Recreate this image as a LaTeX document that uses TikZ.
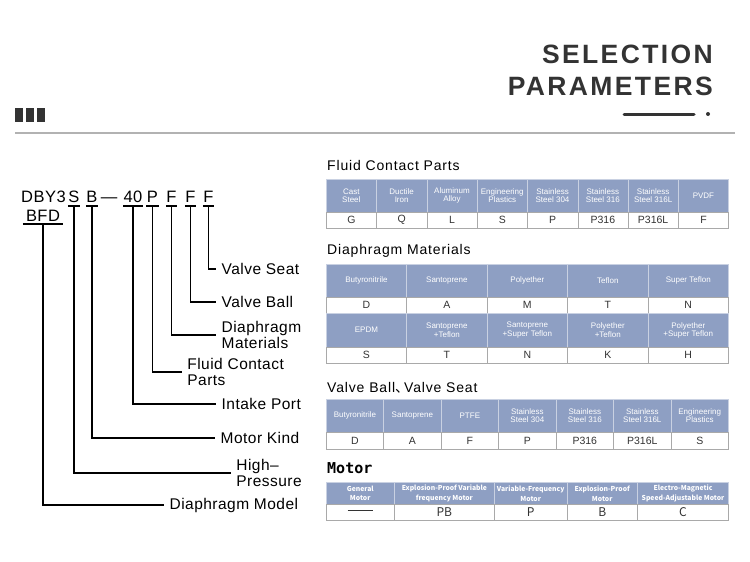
\documentclass[tikz,border=0pt]{standalone}
\usepackage{xcolor}
\usepackage{fontspec}
\setmainfont{Liberation Sans}
\newfontfamily\headfont[LetterSpace=9]{Liberation Sans}
\newfontfamily\titlefont[LetterSpace=6]{Liberation Sans}
\newfontfamily\codefont[LetterSpace=3]{Liberation Sans}
\newfontfamily\motorfont{DejaVu Sans Mono}
\newfontfamily\cjk{Noto Sans CJK SC}
\usepackage{tikz}
\usetikzlibrary{positioning}
\definecolor{hfill}{HTML}{8E9FC3}
\definecolor{hline}{HTML}{C9D1E2}
\definecolor{vline}{HTML}{A9A9A9}
\definecolor{ink}{HTML}{333333}

\begin{document}
\begin{tikzpicture}[x=1pt, y=-1pt,
    leader/.style={line width=1.6pt},
    letter/.style={inner sep=0pt, anchor=base, text height=12pt, text depth=4pt, minimum width=12pt, font=\codefont\fontsize{16.5}{18}\selectfont},
    part/.style={anchor=west, inner xsep=5.5pt, inner ysep=0pt, align=left, font=\codefont\fontsize{15.5}{16.8}\selectfont},
    tabtitle/.style={anchor=base west, inner sep=0pt, font=\titlefont\fontsize{14}{16}\selectfont},
    hcell/.style={anchor=north west, inner sep=0pt, fill=hfill, draw=hline, text=white, align=center, font=\fontsize{8}{8.5}\selectfont},
    vcell/.style={anchor=north west, inner sep=0pt, fill=white, draw=vline, text=ink, font=\fontsize{10.5}{12}\selectfont}]

    \fill[white] (0,0) rectangle (750,562);
    \useasboundingbox (0,0) rectangle (750,562);

    % Heading
    \node[anchor=base east, inner sep=0pt, text=ink, font=\headfont\bfseries\fontsize{26.5}{30}\selectfont] (sel) at (713,63) {SELECTION};
    \node[anchor=base east, inner sep=0pt, text=ink, font=\headfont\bfseries\fontsize{26.5}{30}\selectfont] (par) at (713,95) {PARAMETERS};
    \draw[line width=3pt, line cap=round, ink] (624,114) -- (694,114);
    \fill[ink] (708,114) circle (2);
    \foreach \x in {15,26,37}
        \fill[ink] (\x,108) rectangle ++(8,14);
    \draw[line width=1.8pt, black!30] (15,133) -- (735,133);

    % Model code
    \node[letter, minimum width=0pt] (dby) at (43.5,202) {DBY3};
    \node[letter] (s) at (74,202) {S};
    \node[letter] (b) at (92,202) {B};
    \node[letter, minimum width=0pt, text depth=0pt] (dash) at (109,202) {—};
    \node[letter, minimum width=15pt] (port40) at (133,202) {40};
    \node[letter] (p) at (152.5,202) {P};
    \node[letter, minimum width=11pt] (f1) at (171.5,202) {F};
    \node[letter, minimum width=11pt] (f2) at (190.5,202) {F};
    \node[letter, minimum width=11pt] (f3) at (208.5,202) {F};
    \node[letter, text depth=2pt, minimum width=40pt] (bfd) at (43,221.5) {BFD};

    % Parts
    \node[part] (seat) at (216,269) {Valve Seat};
    \node[part] (ball) at (216,302) {Valve Ball};
    \node[part] (dmat) at (216,335) {Diaphragm\\Materials};
    \node[part] (fcp) at (181.7,372) {Fluid Contact\\Parts};
    \node[part] (port) at (216,404) {Intake Port};
    \node[part] (kind) at (215,437.7) {Motor Kind};
    \node[part] (hp) at (230.7,473) {High–\\Pressure};
    \node[part] (model) at (164,505) {Diaphragm Model};

    % Leaders
    \foreach \n in {s,b,port40,p,f1,f2,f3,bfd}
        \draw[leader] (\n.south west) -- (\n.south east);
    \foreach \a/\b in {f3/seat, f2/ball, f1/dmat, p/fcp, port40/port, b/kind, s/hp, bfd/model}
        \draw[leader] (\a.south) |- (\b.west);

    % Fluid Contact Parts
    \node[tabtitle] (t1) at (327,170) {Fluid Contact Parts};
    \foreach \h/\v [count=\i from 0] in {Cast\\Steel/G, Ductile\\Iron/Q, Aluminum\\Alloy/L, Engineering\\Plastics/S, Stainless\\Steel 304/P, Stainless\\Steel 316/P316, Stainless\\Steel 316L/P316L, PVDF/F} {
        \node[hcell, minimum width=50.3pt, minimum height=32.7pt] (fh\i) at (326+50.3*\i,179) {\h};
        \node[vcell, minimum width=50.3pt, minimum height=16.6pt] (fv\i) at (326+50.3*\i,211.7) {\v};
    }

    % Diaphragm Materials
    \node[tabtitle] (t2) at (327,254) {Diaphragm Materials};
    \foreach \h/\v [count=\i from 0] in {Butyronitrile/D, Santoprene/A, Polyether/M, Teflon/T, Super Teflon/N} {
        \node[hcell, minimum width=80.46pt, minimum height=32.4pt] (dh\i) at (326+80.46*\i,264.3) {\h};
        \node[vcell, minimum width=80.46pt, minimum height=16.6pt] (dv\i) at (326+80.46*\i,296.7) {\v};
    }
    \foreach \h/\v [count=\i from 0] in {EPDM/S, Santoprene\\+Teflon/T, Santoprene\\+Super Teflon/N, Polyether\\+Teflon/K, Polyether\\+Super Teflon/H} {
        \node[hcell, minimum width=80.46pt, minimum height=33.4pt] (dk\i) at (326+80.46*\i,313.3) {\h};
        \node[vcell, minimum width=80.46pt, minimum height=16.6pt] (dw\i) at (326+80.46*\i,346.7) {\v};
    }

    % Valve Ball / Valve Seat
    \node[tabtitle] (t3) at (327,392.5) {Valve Ball{\cjk 、}\kern-5pt Valve Seat};
    \foreach \h/\v [count=\i from 0] in {Butyronitrile/D, Santoprene/A, PTFE/F, Stainless\\Steel 304/P, Stainless\\Steel 316/P316, Stainless\\Steel 316L/P316L, Engineering\\Plastics/S} {
        \node[hcell, minimum width=57.47pt, minimum height=32.4pt] (vh\i) at (326+57.47*\i,399.3) {\h};
        \node[vcell, minimum width=57.47pt, minimum height=17.3pt] (vv\i) at (326+57.47*\i,431.7) {\v};
    }

    % Motor
    \node[tabtitle, font=\motorfont\bfseries\fontsize{15}{16}\selectfont] (t4) at (327,473) {Motor};
    \foreach \x/\w/\h/\v [count=\i from 0] in {326/68/General\\Motor/\rule[3.6pt]{25pt}{0.8pt}, 394/100.3/Explosion-Proof Variable\\frequency Motor/PB, 494.3/72.4/Variable-Frequency\\Motor/P, 566.7/70.6/Explosion-Proof\\Motor/B, 637.3/91/Electro-Magnetic\\Speed-Adjustable Motor/C} {
        \node[hcell, minimum width=\w pt, minimum height=22pt, font=\cjk\bfseries\fontsize{6.8}{9.5}\selectfont] (mh\i) at (\x,482.3) {\h};
        \node[vcell, minimum width=\w pt, minimum height=15.7pt, font=\cjk\fontsize{12}{13}\selectfont] (mv\i) at (\x,504.3) {\v};
    }
\end{tikzpicture}
\end{document}
